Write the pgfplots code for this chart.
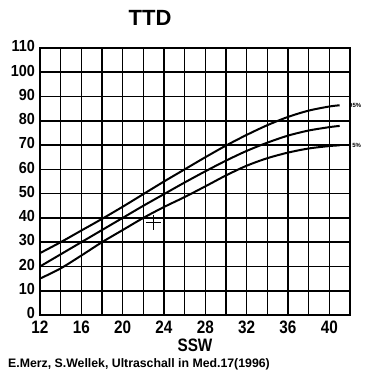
\documentclass[border=0pt]{standalone}
\usepackage{pgfplots}
\pgfplotsset{compat=1.18}
\usepackage{fontspec}
\setmainfont{Liberation Sans}
\newfontfamily\condfont[FakeStretch=0.85]{Liberation Sans}
\newfontfamily\ycondfont[FakeStretch=0.9]{Liberation Sans}

% TTD percentile curves (mm) against gestational week
\pgfplotstableread{
ssw  p95   p50   p05
12   25.5  20.0  15.0
14   30.0  25.0  19.2
16   34.8  30.0  24.5
18   39.6  35.0  30.0
20   44.6  40.0  35.0
22   49.8  45.0  40.0
24   55.0  49.8  44.5
26   60.0  54.6  48.6
28   65.0  59.2  53.0
30   69.8  63.6  57.5
32   74.2  67.6  61.5
34   78.2  71.0  64.6
36   81.6  73.9  66.9
38   84.2  76.0  68.6
40   85.9  77.4  69.6
41   86.4  77.9  69.9
}\ttd

\begin{document}
\begin{tikzpicture}
\begin{axis}[
    scale only axis,
    width=310pt, height=267pt,
    xmin=12, xmax=42, ymin=0, ymax=110,
    xtick={12,16,...,40},
    minor xtick={14,18,...,42},
    ytick={0,10,...,110},
    grid=both,
    major grid style={black, line width=1.6pt},
    minor grid style={black, line width=1.6pt},
    axis line style={black, line width=1.6pt},
    major tick length=0pt, minor tick length=0pt,
    /pgf/number format/assume math mode=true,
    xticklabel style={font=\condfont\bfseries\fontsize{18}{18}\selectfont,
                      anchor=base, yshift=-18.5pt, inner sep=0pt,
                      text height=13pt, text depth=0pt},
    yticklabel style={font=\ycondfont\bfseries\fontsize{16}{16}\selectfont,
                      anchor=east, inner sep=0pt, xshift=-5pt, yshift=2pt,
                      text height=11.5pt, text depth=0pt},
    clip=false,
  ]
  \addplot[black, line width=2pt, smooth] table[x=ssw, y=p95] {\ttd};
  \addplot[black, line width=2pt, smooth] table[x=ssw, y=p50] {\ttd};
  \addplot[black, line width=2pt, smooth] table[x=ssw, y=p05] {\ttd};
  % measured value
  \addplot[black, only marks, mark=+, mark size=7.5pt,
           mark options={line width=1.4pt}] coordinates {(23,38.0)};
  \node[anchor=west, inner sep=0pt, font=\bfseries\fontsize{6}{6}\selectfont]
    at (axis cs:41.9,86.4) {95\%};
  \node[anchor=west, inner sep=0pt, font=\bfseries\fontsize{6}{6}\selectfont]
    at (axis cs:42.2,69.8) {5\%};
\end{axis}
\node[anchor=base, inner sep=0pt, text height=13pt, text depth=0pt,
      font=\condfont\bfseries\fontsize{18}{18}\selectfont]
  at (155pt,-36pt) {SSW};
\node[anchor=base, inner sep=0pt, font=\bfseries\fontsize{22}{22}\selectfont]
  at (110pt,289pt) {TTD};
\node[anchor=base west, inner sep=0pt, font=\bfseries\fontsize{12.3}{12.3}\selectfont]
  at (-32pt,-52pt) {E.Merz, S.Wellek, Ultraschall in Med.17(1996)};
\pgfresetboundingbox
\useasboundingbox (-40pt,-65pt) rectangle (324pt,315pt);
\end{tikzpicture}
\end{document}
